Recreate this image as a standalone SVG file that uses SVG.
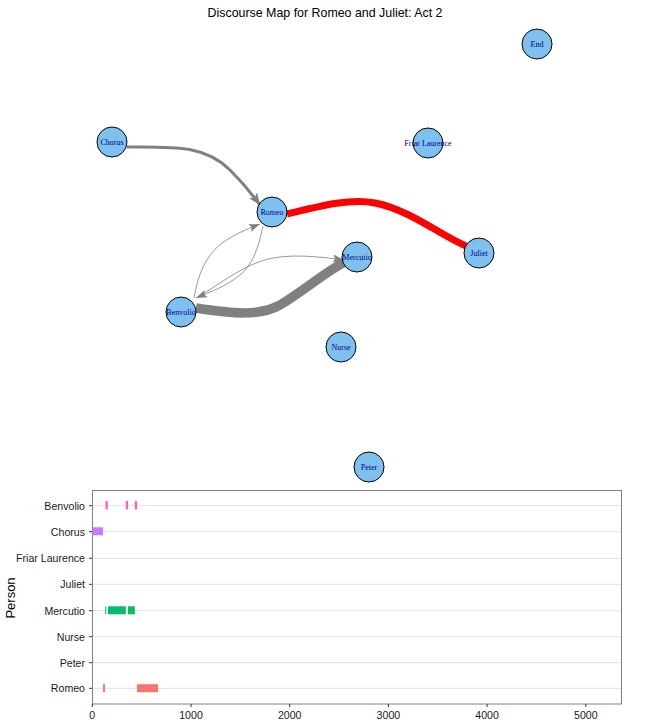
<svg xmlns="http://www.w3.org/2000/svg" width="650" height="725" viewBox="0 0 650 725">
<style>
.node circle{fill:#7EC0EE;stroke:#000;stroke-width:1}
.node text{font-family:"Liberation Serif",serif;font-size:8px;fill:#00008B;text-anchor:middle}
.edge{fill:none;stroke:#808080}
.grid{stroke:#E3E3E3;stroke-width:1}
.ylab{font-family:"Liberation Sans",Arial,sans-serif;font-size:10.6px;fill:#1a1a1a;text-anchor:end}
.xlab{font-family:"Liberation Sans",Arial,sans-serif;font-size:10.6px;fill:#1a1a1a;text-anchor:middle}
.tick{stroke:#333;stroke-width:1}
</style>
<defs>
<marker id="ah" markerUnits="userSpaceOnUse" markerWidth="14" markerHeight="12" refX="12" refY="5" orient="auto" viewBox="0 0 14 10">
<path d="M0,0 L12,5 L0,10 L3,5 Z" fill="#808080"/>
</marker>
<marker id="ahs" markerUnits="userSpaceOnUse" markerWidth="11" markerHeight="9" refX="11" refY="4" orient="auto" viewBox="0 0 11 8">
<path d="M0,0 L11,4 L0,8 L2,4 Z" fill="#808080"/>
</marker>
</defs>
<rect width="650" height="725" fill="#fff"/>
<text x="325" y="17" font-family="Liberation Sans,Arial,sans-serif" font-size="12.4" text-anchor="middle" fill="#000">Discourse Map for Romeo and Juliet: Act 2</text>
<g id="connectors">
<path class="edge" d="M127,147 C175,147 205,145 230,170 C242,182 252,194 260,205" stroke-width="3" marker-end="url(#ah)"/>
<path class="edge" d="M287,214 C320,206 350,198 375,203 C410,210 440,235 466,246" style="stroke:#FF0000" stroke-width="7"/>
<path class="edge" d="M196,308 C235,314 260,316 280,305 C305,290 325,272 345,262" stroke-width="9.5"/>
<path class="edge" d="M194,298 C198,275 205,256 222,243 C235,234 245,230 260,224" stroke-width="0.8" marker-end="url(#ahs)"/>
<path class="edge" d="M263,226 C258,250 252,265 240,275 C225,287 210,292 196,298" stroke-width="0.8" marker-end="url(#ahs)"/>
<path class="edge" d="M203,294 C225,280 245,265 268,259 C290,254 315,256 344,260" stroke-width="0.8" marker-end="url(#ahs)"/>
</g>
<g id="node-end" class="node"><circle cx="537" cy="44" r="15"/><text x="537" y="47">End</text></g>
<g id="node-chorus" class="node"><circle cx="112" cy="142" r="15"/><text x="112" y="145">Chorus</text></g>
<g id="node-friar" class="node"><circle cx="428" cy="143" r="15"/><text x="428" y="146">Friar Laurence</text></g>
<g id="node-romeo" class="node"><circle cx="272" cy="212" r="15"/><text x="272" y="215">Romeo</text></g>
<g id="node-juliet" class="node"><circle cx="479" cy="253" r="15"/><text x="479" y="256">Juliet</text></g>
<g id="node-mercutio" class="node"><circle cx="357" cy="257" r="15"/><text x="357" y="260">Mercutio</text></g>
<g id="node-benvolio" class="node"><circle cx="181" cy="312" r="15"/><text x="181" y="315">Benvolio</text></g>
<g id="node-nurse" class="node"><circle cx="341" cy="347" r="15"/><text x="341" y="350">Nurse</text></g>
<g id="node-peter" class="node"><circle cx="369" cy="467" r="15"/><text x="369" y="470">Peter</text></g>
<g id="chart">
<g class="grid">
<line x1="92" y1="505.7" x2="621" y2="505.7"/>
<line x1="92" y1="531.7" x2="621" y2="531.7"/>
<line x1="92" y1="558.3" x2="621" y2="558.3"/>
<line x1="92" y1="584.3" x2="621" y2="584.3"/>
<line x1="92" y1="610.7" x2="621" y2="610.7"/>
<line x1="92" y1="636.7" x2="621" y2="636.7"/>
<line x1="92" y1="662.7" x2="621" y2="662.7"/>
<line x1="92" y1="688.3" x2="621" y2="688.3"/>
</g>
<rect x="92.5" y="490.5" width="529" height="213.5" fill="none" stroke="#7F7F7F" stroke-width="1"/>
<g fill="#FF61CC">
<rect x="105.5" y="501" width="2.3" height="8.5"/>
<rect x="125.8" y="501" width="2.3" height="8.5"/>
<rect x="134.8" y="501" width="2.3" height="8.5"/>
</g>
<rect x="92.5" y="527.3" width="10.5" height="8" fill="#C77CFF"/>
<g fill="#00BE67">
<rect x="105.2" y="606.3" width="1" height="8"/>
<rect x="108" y="606.3" width="17.8" height="8"/>
<rect x="128" y="606.3" width="6.8" height="8"/>
</g>
<g fill="#F8766D">
<rect x="103" y="684.2" width="2" height="8"/>
<rect x="137" y="684.2" width="21" height="8"/>
</g>
<g class="tick">
<line x1="89" y1="505.7" x2="92" y2="505.7"/>
<line x1="89" y1="531.7" x2="92" y2="531.7"/>
<line x1="89" y1="558.3" x2="92" y2="558.3"/>
<line x1="89" y1="584.3" x2="92" y2="584.3"/>
<line x1="89" y1="610.7" x2="92" y2="610.7"/>
<line x1="89" y1="636.7" x2="92" y2="636.7"/>
<line x1="89" y1="662.7" x2="92" y2="662.7"/>
<line x1="89" y1="688.3" x2="92" y2="688.3"/>
<line x1="92.3" y1="704" x2="92.3" y2="707"/>
<line x1="191" y1="704" x2="191" y2="707"/>
<line x1="289.7" y1="704" x2="289.7" y2="707"/>
<line x1="388.4" y1="704" x2="388.4" y2="707"/>
<line x1="487.1" y1="704" x2="487.1" y2="707"/>
<line x1="585.8" y1="704" x2="585.8" y2="707"/>
</g>
<text class="ylab" x="85" y="509.5">Benvolio</text>
<text class="ylab" x="85" y="535.5">Chorus</text>
<text class="ylab" x="85" y="562.1">Friar Laurence</text>
<text class="ylab" x="85" y="588.1">Juliet</text>
<text class="ylab" x="85" y="614.5">Mercutio</text>
<text class="ylab" x="85" y="640.5">Nurse</text>
<text class="ylab" x="85" y="666.5">Peter</text>
<text class="ylab" x="85" y="692.1">Romeo</text>
<text class="xlab" x="92.3" y="719">0</text>
<text class="xlab" x="191" y="719">1000</text>
<text class="xlab" x="289.7" y="719">2000</text>
<text class="xlab" x="388.4" y="719">3000</text>
<text class="xlab" x="487.1" y="719">4000</text>
<text class="xlab" x="585.8" y="719">5000</text>
<text x="15" y="598" transform="rotate(-90 15 598)" font-family="Liberation Sans,Arial,sans-serif" font-size="13" text-anchor="middle" fill="#000">Person</text>
</g>
</svg>
